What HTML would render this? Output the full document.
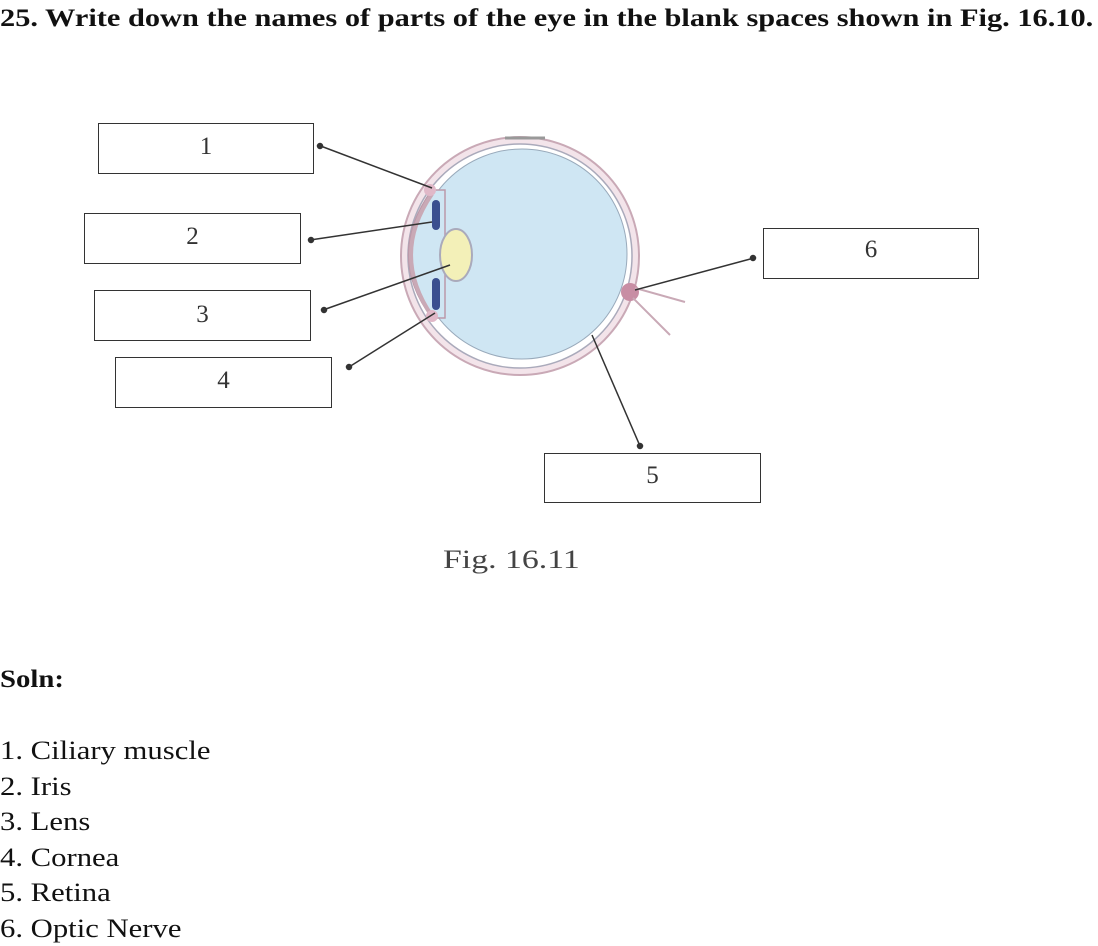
<!DOCTYPE html>
<html><head><style>
body{margin:0;width:1098px;height:942px;background:#fff;position:relative;overflow:hidden;font-family:"Liberation Serif",serif;color:#111}
.t{position:absolute;white-space:nowrap;transform-origin:0 0}
.b{position:absolute;border:1.5px solid #333;box-sizing:border-box;font-size:25px;text-align:center;color:#333}
</style></head><body>
<div class="t" style="left:0;top:5px;font-size:25px;font-weight:bold;transform:scaleX(1.215)">25. Write down the names of parts of the eye in the blank spaces shown in Fig. 16.10.</div>
<div class="b" style="left:98px;top:123px;width:216px;height:51px;line-height:46px">1</div>
<div class="b" style="left:84px;top:213px;width:217px;height:51px;line-height:46px">2</div>
<div class="b" style="left:94px;top:290px;width:217px;height:51px;line-height:48px">3</div>
<div class="b" style="left:115px;top:357px;width:217px;height:51px;line-height:46px">4</div>
<div class="b" style="left:763px;top:228px;width:216px;height:51px;line-height:42px">6</div>
<div class="b" style="left:544px;top:453px;width:217px;height:50px;line-height:44px">5</div>
<svg style="position:absolute;left:0;top:0" width="1098" height="942">
<circle cx="520" cy="256" r="119" fill="#f3e4ea" stroke="#c9a9b6" stroke-width="2"/>
<circle cx="520" cy="256" r="112" fill="#fff" stroke="#aab" stroke-width="1.5"/>
<circle cx="522" cy="254" r="105" fill="#cfe6f3" stroke="#9ab" stroke-width="1"/>
<path d="M432 190 Q385 255 432 318 L445 318 L445 190Z" fill="#cfe6f3" stroke="#b9a" stroke-width="1.5"/>
<path d="M432 194 Q390 255 432 316" fill="none" stroke="#c9a9b6" stroke-width="4"/>
<rect x="432" y="200" width="8" height="30" rx="4" fill="#3a4f8f"/>
<rect x="432" y="278" width="8" height="32" rx="4" fill="#3a4f8f"/>
<ellipse cx="456" cy="255" rx="16" ry="26" fill="#f3f0b8" stroke="#aab" stroke-width="2"/>
<circle cx="430" cy="190" r="6" fill="#e0b8c8"/>
<circle cx="432" cy="316" r="6" fill="#e0b8c8"/>
<circle cx="630" cy="292" r="9" fill="#c88ea4"/>
<path d="M635 288 L685 302 M633 298 L670 335" stroke="#c9a9b6" stroke-width="2" fill="none"/>
<path d="M505 138 L545 138" stroke="#999" stroke-width="3"/>
<g stroke="#333" stroke-width="1.5" fill="#333">
<line x1="318" y1="145" x2="432" y2="188"/><circle cx="320" cy="146" r="2.5"/>
<line x1="310" y1="240" x2="432" y2="222"/><circle cx="311" cy="240" r="2.5"/>
<line x1="323" y1="310" x2="450" y2="265"/><circle cx="324" cy="310" r="2.5"/>
<line x1="349" y1="367" x2="435" y2="313"/><circle cx="349" cy="367" r="2.5"/>
<line x1="754" y1="258" x2="635" y2="290"/><circle cx="753" cy="258" r="2.5"/>
<line x1="592" y1="335" x2="640" y2="446"/><circle cx="640" cy="446" r="2.5"/>
</g>
</svg>
<div class="t" style="left:443px;top:545px;font-size:26px;color:#444;transform:scaleX(1.3)">Fig. 16.11</div>
<div class="t" style="left:0;top:666px;font-size:25px;font-weight:bold;transform:scaleX(1.15)">Soln:</div>
<div class="t" style="left:0;top:733px;font-size:26px;line-height:35.5px;transform:scaleX(1.18)">1. Ciliary muscle<br>2. Iris<br>3. Lens<br>4. Cornea<br>5. Retina<br>6. Optic Nerve</div>
</body></html>
